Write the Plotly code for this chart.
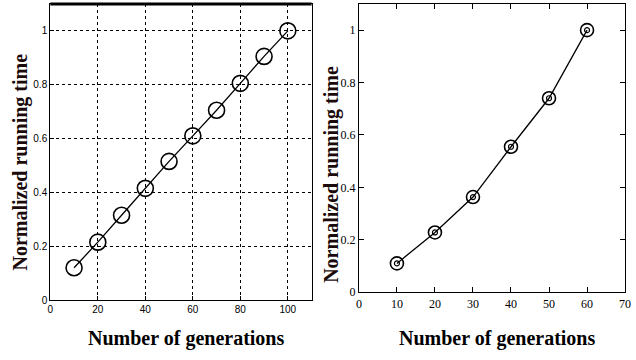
import plotly.graph_objects as go

left_x = [10, 20, 30, 40, 50, 60, 70, 80, 90, 100]
left_y = [0.12, 0.215, 0.315, 0.415, 0.515, 0.61, 0.705, 0.805, 0.905, 1.0]
right_x = [10, 20, 30, 40, 50, 60]
right_y = [0.11, 0.228, 0.363, 0.555, 0.74, 1.0]

left_xticks = [0, 20, 40, 60, 80, 100]
right_xticks = [0, 10, 20, 30, 40, 50, 60, 70]
yticks = [0, 0.2, 0.4, 0.6, 0.8, 1.0]
ytick_text = ["0", "0.2", "0.4", "0.6", "0.8", "1"]

x_title = "Number of generations"
y_title = "Normalized running time"

serif = "Liberation Serif, Times New Roman, serif"
sans = "Liberation Sans, Arial, sans-serif"

fig = go.Figure()
fig.add_trace(go.Scatter(
    x=left_x, y=left_y, mode="lines+markers", xaxis="x", yaxis="y",
    line=dict(color="black", width=1.3),
    marker=dict(symbol="circle-open", size=16, color="black", line=dict(width=1.6)),
    showlegend=False))
fig.add_trace(go.Scatter(
    x=right_x, y=right_y, mode="lines+markers", xaxis="x2", yaxis="y2",
    line=dict(color="black", width=1.3),
    marker=dict(symbol="circle-open", size=13, color="black", line=dict(width=1.6)),
    showlegend=False))
fig.add_trace(go.Scatter(
    x=right_x, y=right_y, mode="markers", xaxis="x2", yaxis="y2",
    marker=dict(symbol="circle-open", size=5, color="black", line=dict(width=1.2)),
    showlegend=False, hoverinfo="skip"))

fig.update_layout(
    width=636, height=360,
    margin=dict(l=0, r=0, t=0, b=0),
    paper_bgcolor="white", plot_bgcolor="white",
    xaxis=dict(domain=[48/636, 313/636], range=[0, 110], tickvals=left_xticks,
               showgrid=True, gridcolor="black", griddash="dot", gridwidth=1,
               zeroline=False, showline=True, linecolor="black", linewidth=1.2, mirror=True,
               ticks="inside", ticklen=4, tickcolor="black",
               tickfont=dict(family=sans, size=10, color="black"), anchor="y"),
    yaxis=dict(domain=[1-306/360, 1-4/360], range=[0, 1.1], tickvals=yticks, ticktext=ytick_text,
               showgrid=True, gridcolor="black", griddash="dot", gridwidth=1,
               zeroline=False, showline=True, linecolor="black", linewidth=1.2, mirror=True,
               ticks="inside", ticklen=4, tickcolor="black",
               tickfont=dict(family=sans, size=10, color="black"), anchor="x"),
    xaxis2=dict(domain=[361/636, 631/636], range=[0, 70], tickvals=right_xticks,
                showgrid=False, zeroline=False, showline=True, linecolor="black", linewidth=1.2,
                mirror="allticks", ticks="inside", ticklen=5, tickcolor="black",
                ticklabeloverflow="allow",
                tickfont=dict(family=serif, size=12, color="black"), anchor="y2"),
    yaxis2=dict(domain=[1-298/360, 1-4/360], range=[0, 1.1], tickvals=yticks, ticktext=ytick_text,
                showgrid=False, zeroline=False, showline=True, linecolor="black", linewidth=1.2,
                mirror="allticks", ticks="inside", ticklen=5, tickcolor="black",
                tickfont=dict(family=serif, size=12, color="black"), anchor="x2"),
    shapes=[dict(type="line", xref="x domain", yref="y domain", x0=0, x1=1, y0=1, y1=1,
                 line=dict(color="black", width=3))],
    annotations=[
        dict(text=f"<b>{x_title}</b>", xref="paper", yref="paper", x=186/636, y=1-345/360,
             showarrow=False, font=dict(family=serif, size=20, color="black"),
             xanchor="center", yanchor="middle"),
        dict(text=f"<b>{x_title}</b>", xref="paper", yref="paper", x=501/636, y=1-345/360,
             showarrow=False, font=dict(family=serif, size=20, color="black"),
             xanchor="center", yanchor="middle"),
        dict(text=f"<b>{y_title}</b>", xref="paper", yref="paper", x=18/636, y=1-165/360,
             showarrow=False, textangle=-90, font=dict(family=serif, size=20, color="#1a0a0a"),
             xanchor="center", yanchor="middle"),
        dict(text=f"<b>{y_title}</b>", xref="paper", yref="paper", x=333/636, y=1-178/360,
             showarrow=False, textangle=-90, font=dict(family=serif, size=20, color="#1a0a0a"),
             xanchor="center", yanchor="middle"),
    ],
)

fig.write_html("out.html")
